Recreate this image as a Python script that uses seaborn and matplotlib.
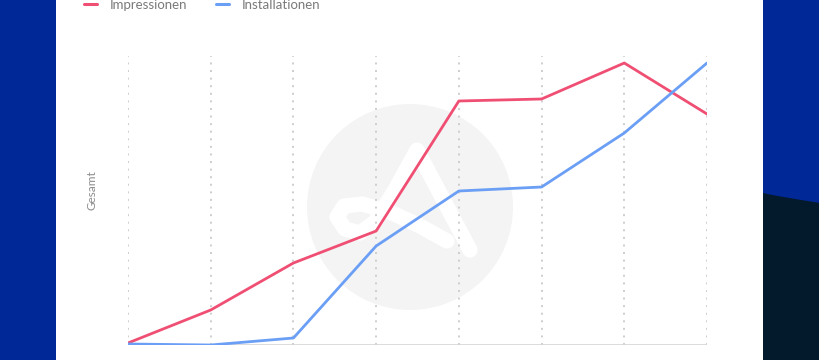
import numpy as np
import pandas as pd
import matplotlib
matplotlib.use("Agg")
import matplotlib.pyplot as plt
from matplotlib.patches import Rectangle, Ellipse, Polygon
from matplotlib.lines import Line2D
import seaborn as sns

# Monthly series (8 periods)
periods = list(range(8))
impressionen = [2, 35, 82, 114, 244, 246, 282, 231]
installationen = [1, 0, 7, 99, 154, 158, 212, 282]
series_names = ["Impressionen", "Installationen"]
palette = {"Impressionen": "#f04f74", "Installationen": "#6b9ff5"}

df = pd.DataFrame({
    "Periode": periods * 2,
    "Gesamt": impressionen + installationen,
    "Serie": [series_names[0]] * 8 + [series_names[1]] * 8,
})

sns.set_theme(style="white")
plt.rcParams["font.family"] = ["Lato", "DejaVu Sans"]

W, H = 820, 360
fig = plt.figure(figsize=(8.2, 3.6), dpi=100)
fig.patch.set_facecolor("white")

def fx(px):
    return np.asarray(px) / W

def fy(py):
    return 1 - np.asarray(py) / H

# side panels
fig.patches.append(Rectangle((0, 0), fx(56), 1, transform=fig.transFigure,
                             facecolor="#002896", edgecolor="none", zorder=0))
fig.patches.append(Rectangle((fx(763), 0), 1 - fx(763), 1, transform=fig.transFigure,
                             facecolor="#002896", edgecolor="none", zorder=0))
xs = np.linspace(763, 820, 20)
ys = 193 + 10 * ((xs - 763) / 57) ** 0.9
dark = [(fx(x), fy(y)) for x, y in zip(xs, ys)] + [(1, 0), (fx(763), 0)]
fig.patches.append(Polygon(dark, closed=True, transform=fig.transFigure,
                           facecolor="#031a2d", edgecolor="none", zorder=1))

# background mark: grey disc with a white looped "A"
cx, cy, r = 410, 207, 103
fig.patches.append(Ellipse((fx(cx), fy(cy)), 2 * r / W, 2 * r / H,
                           transform=fig.transFigure,
                           facecolor="#f4f4f4", edgecolor="none", zorder=1))
mark_path = np.array([
    (470, 250), (417, 150), (395, 190), (375, 222), (360, 233), (345, 229),
    (337, 217), (344, 206), (362, 204), (390, 212), (420, 226), (447, 241),
])
fig.lines.append(Line2D(fx(mark_path[:, 0]), fy(mark_path[:, 1]),
                        transform=fig.transFigure, color="white", lw=11,
                        solid_capstyle="round", solid_joinstyle="round", zorder=1.5))

ax = fig.add_axes([fx(128), fy(345), fx(707) - fx(128), (345 - 56) / H])
ax.set_facecolor("none")
ax.set_zorder(2)

sns.lineplot(data=df, x="Periode", y="Gesamt", hue="Serie", palette=palette,
             linewidth=2.0, ax=ax, legend=False)

ax.set_xlim(0, 7)
ax.set_ylim(0, 289)
for p in periods:
    ax.axvline(p, color="#cdcdcd", lw=1.4, ls=(0, (1, 2.9)), zorder=0)
ax.axhline(0, color="#d6d6d6", lw=1.2, zorder=0.5)
for s in ax.spines.values():
    s.set_visible(False)
ax.set_xticks([])
ax.set_yticks([])
ax.set_xlabel("")
ax.set_ylabel("")

fig.text(fx(92), fy(190), "Gesamt", rotation=90, ha="center", va="center",
         fontsize=8.5, color="#8a8a8a")

handles = [Line2D([], [], color=palette[n], lw=2.2) for n in series_names]
leg = fig.legend(handles, series_names, loc="center left",
                 bbox_to_anchor=(fx(84), fy(5)), ncol=2, frameon=False,
                 fontsize=9.5, handlelength=1.0, handletextpad=0.95,
                 columnspacing=2.2, borderpad=0, borderaxespad=0)
for t_ in leg.get_texts():
    t_.set_color("#7a7a7a")

fig.savefig("out.png", dpi=100)
